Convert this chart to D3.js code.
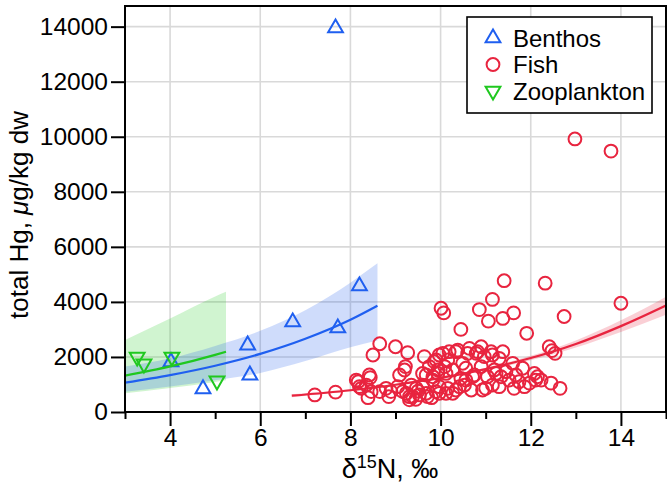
<!DOCTYPE html>
<html>
<head>
<meta charset="utf-8">
<script src="https://cdn.jsdelivr.net/npm/d3@7"></script>
<style>
    body { margin: 0; background: #fff; }
    text { font-family: "Liberation Sans", Arial, Helvetica, sans-serif; }
</style>
</head>
<body>
<svg id="chart" width="667" height="494"></svg>
<script>
// values
var xTicks = [4, 6, 8, 10, 12, 14];
var yTicks = [0, 2000, 4000, 6000, 8000, 10000, 12000, 14000];

var benthos = [
    [7.67, 13950], [8.2, 4580], [7.72, 3050], [6.72, 3270],
    [5.72, 2430], [5.77, 1340], [4.73, 840], [4.02, 1820]
];
var zooplankton = [
    [3.27, 2000], [3.42, 1750], [4.04, 2000], [5.04, 1130]
];
var fish = [
    [7.21, 620], [7.67, 720],
    [8.13, 1160], [8.17, 1100], [8.2, 920], [8.24, 860], [8.35, 980], [8.39, 520],
    [8.42, 1345], [8.44, 1250], [8.46, 740], [8.5, 2070], [8.65, 2480], [8.65, 740],
    [8.79, 860], [8.85, 560], [8.9, 740], [9.0, 2370], [9.05, 920], [9.09, 1345],
    [9.16, 740], [9.2, 1525], [9.22, 1650], [9.27, 2155], [9.24, 680], [9.31, 555],
    [9.31, 440], [9.35, 980], [9.38, 560], [9.45, 460], [9.46, 860], [9.5, 760],
    [9.53, 620], [9.6, 980], [9.6, 1400], [9.64, 2010], [9.68, 1345], [9.68, 680],
    [9.71, 560], [9.75, 1650], [9.8, 520], [9.83, 1160], [9.83, 1280], [9.86, 1830],
    [9.9, 740], [9.9, 1890], [9.94, 1525], [9.94, 1400], [9.97, 2070], [9.97, 920],
    [9.97, 680], [10.01, 3770], [10.07, 3600], [10.05, 2130], [10.09, 1650], [10.12, 1400],
    [10.12, 680], [10.16, 860], [10.16, 1890], [10.19, 2190], [10.27, 1525], [10.27, 680],
    [10.34, 800], [10.34, 2190], [10.38, 2250], [10.42, 920], [10.45, 1225], [10.45, 3000],
    [10.49, 1770], [10.53, 980], [10.56, 1590], [10.56, 1160], [10.6, 2130], [10.64, 2310],
    [10.68, 800], [10.71, 1280], [10.75, 1345], [10.79, 2130], [10.82, 2190], [10.86, 3720],
    [10.9, 1650], [10.9, 2370], [10.93, 800], [10.97, 2010], [11.0, 860], [11.04, 1280],
    [11.06, 3300], [11.12, 2190], [11.15, 4090], [11.15, 980], [11.15, 2070], [11.19, 1525],
    [11.23, 1400], [11.3, 920], [11.3, 1950], [11.34, 1280], [11.38, 2190], [11.38, 3400],
    [11.41, 4770], [11.45, 1465], [11.52, 1160], [11.6, 1770], [11.62, 3600], [11.63, 860],
    [11.67, 1345], [11.74, 1100], [11.82, 1590], [11.86, 920], [11.91, 2860], [11.97, 1050],
    [12.08, 1400], [12.11, 1160], [12.15, 1280], [12.23, 1160], [12.32, 4680], [12.41, 2370],
    [12.45, 1050], [12.47, 2230], [12.54, 2130], [12.65, 860], [12.74, 3470],
    [12.98, 9920], [13.78, 9480], [14.0, 3950]
];

// fitted curves and their bands, read at a few x positions
var benthosFitX = [3, 4, 5, 6, 7, 8, 8.6];
var benthosFit = [1065, 1340, 1680, 2110, 2660, 3350, 3860];
var benthosHi = [1650, 1950, 2400, 2950, 3700, 4700, 5400];
var benthosLo = [740, 930, 1150, 1420, 1850, 2350, 2600];

var zooFitX = [3, 4, 5, 5.24];
var zooFit = [1320, 1655, 2075, 2190];
var zooHi = [2620, 3400, 4200, 4370];
var zooLo = [680, 870, 1090, 1150];

var fishFitX = [6.7, 8, 9, 10, 11, 12, 13, 14, 15];
var fishFit = [592, 790, 990, 1240, 1560, 1960, 2470, 3120, 3870];
var fishHi = [645, 830, 1025, 1280, 1610, 2040, 2600, 3330, 4190];
var fishLo = [540, 752, 955, 1200, 1510, 1880, 2340, 2910, 3530];

var blue = '#1f5ff0', red = '#e8243f', green = '#1fc81f';

var margin = { top: 6, right: 1, bottom: 82, left: 125 };
var svg = d3.select('#chart');
var width = 667 - margin.left - margin.right,
    height = 494 - margin.top - margin.bottom;

var x = d3.scaleLinear().domain([3, 15]).range([0, width]);
var y = d3.scaleLinear().domain([0, 14750]).range([height, 0]);

var g = svg.append('g').attr('transform', 'translate(' + margin.left + ',' + margin.top + ')');

g.append('clipPath').attr('id', 'plotClip')
    .append('rect').attr('width', width).attr('height', height);

// grid
g.append('g').attr('class', 'grid')
    .selectAll('line.v').data(xTicks).enter().append('line')
    .attr('x1', function(d) { return x(d); }).attr('x2', function(d) { return x(d); })
    .attr('y1', 0).attr('y2', height);
g.append('g').attr('class', 'grid')
    .selectAll('line.h').data(yTicks.slice(1)).enter().append('line')
    .attr('x1', 0).attr('x2', width)
    .attr('y1', function(d) { return y(d); }).attr('y2', function(d) { return y(d); });
g.selectAll('.grid line').attr('stroke', '#d9d9d9').attr('stroke-width', 1.6);

var plot = g.append('g').attr('clip-path', 'url(#plotClip)');

function band(xs, lo, hi, fill) {
    var area = d3.area()
        .x(function(d, i) { return x(xs[i]); })
        .y0(function(d, i) { return y(lo[i]); })
        .y1(function(d, i) { return y(hi[i]); })
        .curve(d3.curveMonotoneX);
    plot.append('path').datum(xs).attr('d', area).attr('fill', fill);
}

function fitLine(xs, ys, color) {
    var line = d3.line()
        .x(function(d, i) { return x(xs[i]); })
        .y(function(d, i) { return y(ys[i]); })
        .curve(d3.curveMonotoneX);
    plot.append('path').datum(xs).attr('d', line)
        .attr('fill', 'none').attr('stroke', color).attr('stroke-width', 2.2);
}

band(zooFitX, zooLo, zooHi, 'rgba(40,205,40,0.22)');
band(benthosFitX, benthosLo, benthosHi, 'rgba(35,95,235,0.22)');
band(fishFitX, fishLo, fishHi, 'rgba(232,36,63,0.22)');

var triUp = d3.symbol().type(d3.symbolTriangle).size(95);

plot.selectAll('circle.fish').data(fish).enter().append('circle')
    .attr('class', 'fish')
    .attr('cx', function(d) { return x(d[0]); })
    .attr('cy', function(d) { return y(d[1]); })
    .attr('r', 6.4)
    .attr('fill', 'none').attr('stroke', red).attr('stroke-width', 2);

plot.selectAll('path.benthos').data(benthos).enter().append('path')
    .attr('class', 'benthos')
    .attr('d', triUp)
    .attr('transform', function(d) { return 'translate(' + x(d[0]) + ',' + y(d[1]) + ')'; })
    .attr('fill', 'none').attr('stroke', blue).attr('stroke-width', 2);

plot.selectAll('path.zoo').data(zooplankton).enter().append('path')
    .attr('class', 'zoo')
    .attr('d', triUp)
    .attr('transform', function(d) { return 'translate(' + x(d[0]) + ',' + y(d[1]) + ') rotate(180)'; })
    .attr('fill', 'none').attr('stroke', green).attr('stroke-width', 2);

fitLine(zooFitX, zooFit, green);
fitLine(benthosFitX, benthosFit, blue);
fitLine(fishFitX, fishFit, red);

// axes
var xAxis = g.append('g').attr('transform', 'translate(0,' + height + ')')
    .call(d3.axisBottom(x).tickValues(xTicks).tickSize(14).tickPadding(3).tickFormat(d3.format('d')));
var xMinor = g.append('g').attr('transform', 'translate(0,' + height + ')')
    .call(d3.axisBottom(x).tickValues(d3.range(3, 16, 1).filter(function(d) { return d % 2; })).tickSize(7).tickFormat(''));
var yAxis = g.append('g')
    .call(d3.axisLeft(y).tickValues(yTicks).tickSize(14).tickPadding(3).tickFormat(d3.format('d')));

[xAxis, xMinor, yAxis].forEach(function(a) {
    a.select('.domain').remove();
    a.selectAll('line').attr('stroke', '#000').attr('stroke-width', 2);
    a.selectAll('text').attr('fill', '#000').attr('font-size', 24.5)
        .attr('font-family', '"Liberation Sans", Arial, sans-serif');
});

g.append('rect').attr('width', width).attr('height', height)
    .attr('fill', 'none').attr('stroke', '#000').attr('stroke-width', 2);

// axis titles
var xt = svg.append('text')
    .attr('x', 390).attr('y', 478)
    .attr('text-anchor', 'middle').attr('font-size', 27);
xt.append('tspan').text('δ');
xt.append('tspan').attr('font-size', 18).attr('dy', -10).text('15');
xt.append('tspan').attr('dy', 10).text('N, ‰');

var yt = svg.append('text')
    .attr('transform', 'translate(28,215) rotate(-90)')
    .attr('text-anchor', 'middle').attr('font-size', 26);
yt.append('tspan').text('total Hg, ');
yt.append('tspan').attr('font-style', 'italic').text('μ');
yt.append('tspan').text('g/kg dw');

// legend
var legendItems = [
    { name: 'Benthos', color: blue, shape: 'up' },
    { name: 'Fish', color: red, shape: 'circle' },
    { name: 'Zooplankton', color: green, shape: 'down' }
];
var legend = svg.append('g').attr('transform', 'translate(467,17)');
legend.append('rect').attr('width', 185).attr('height', 96)
    .attr('fill', '#fff').attr('stroke', '#000').attr('stroke-width', 1.6);
var li = legend.selectAll('g.item').data(legendItems).enter().append('g')
    .attr('transform', function(d, i) { return 'translate(26,' + (21 + i * 26.5) + ')'; });
li.each(function(d) {
    var s = d3.select(this);
    if (d.shape === 'circle') {
        s.append('circle').attr('r', 6.4).attr('fill', 'none').attr('stroke', d.color).attr('stroke-width', 2);
    } else {
        s.append('path').attr('d', triUp)
            .attr('transform', d.shape === 'down' ? 'rotate(180)' : null)
            .attr('fill', 'none').attr('stroke', d.color).attr('stroke-width', 2);
    }
});
li.append('text').attr('x', 20).attr('dy', '0.36em').attr('font-size', 24).text(function(d) { return d.name; });
</script>
</body>
</html>
